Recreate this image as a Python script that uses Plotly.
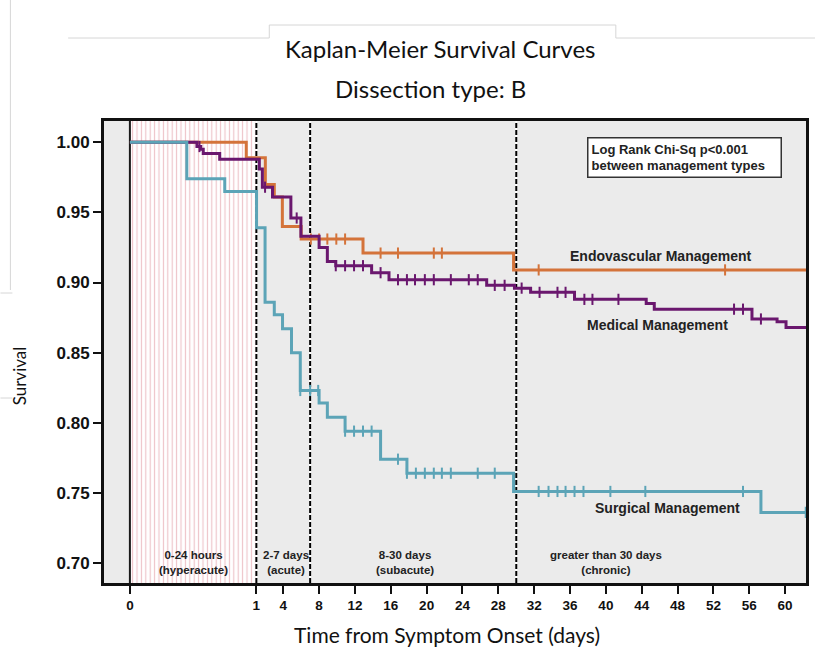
import plotly.graph_objects as go

# ---------------- data (days, survival) ----------------
endo_t = [0, 0.92, 2.0, 3.0, 3.9, 6.0, 12.9, 29.7]
endo_s = [1.000, 0.989, 0.970, 0.961, 0.940, 0.931, 0.921, 0.909]
endo_cens = [7.08, 8.0, 8.92, 9.92, 10.9, 14.86, 16.8, 20.8, 21.7, 32.5, 53.3]

med_t = [0, 0.53, 0.56, 0.58, 0.71, 1.33, 1.67, 2.8, 4.85, 5.97, 8.0, 8.92, 9.86,
         13.86, 15.8, 26.7, 29.8, 31.6, 36.5, 44.5, 45.4, 56.3, 59.1, 60.1]
med_s = [1.000, 0.997, 0.995, 0.992, 0.988, 0.981, 0.968, 0.961, 0.946, 0.933, 0.925, 0.915, 0.912,
         0.907, 0.902, 0.898, 0.896, 0.893, 0.888, 0.885, 0.881, 0.874, 0.872, 0.868]
med_cens = [0.55, 1.97, 5.5, 9.86, 10.9, 11.9, 12.9, 14.86, 16.8, 17.8, 18.7, 19.8, 20.8,
            22.7, 24.7, 25.7, 27.6, 28.7, 30.6, 32.6, 34.6, 35.5, 37.6, 38.5, 41.4,
            54.3, 55.3, 57.3]

surg_t = [0, 0.45, 0.75, 1.02, 1.97, 3.0, 3.92, 4.92, 5.9, 8.0, 8.92, 10.9, 14.86, 17.8, 29.7, 57.3]
surg_s = [1.000, 0.974, 0.965, 0.939, 0.886, 0.877, 0.867, 0.850, 0.823, 0.814, 0.804, 0.794,
          0.774, 0.764, 0.751, 0.736]
surg_cens = [5.9, 7.0, 7.9, 10.9, 11.9, 12.9, 13.86, 16.8, 17.8, 18.8, 19.8, 20.8, 21.7, 22.7,
             25.7, 27.6, 32.5, 33.6, 34.6, 35.5, 36.5, 37.5, 40.5, 44.4, 55.3, 62.3]

follow_up_end = 62.5

series_names = ["Endovascular Management", "Medical Management", "Surgical Management"]
series_colors = ["#d4733a", "#6a176e", "#5ca4b7"]
label_days = [46.2, 45.8, 46.9]
label_surv = [0.919, 0.870, 0.739]

period_bounds = [0, 1, 7, 30]
period_labels = ["0-24 hours<br>(hyperacute)", "2-7 days<br>(acute)",
                 "8-30 days<br>(subacute)", "greater than 30 days<br>(chronic)"]
period_label_days = [0.5, 4.3, 17.6, 40.0]

x_tick_days = [0, 1, 4, 8, 12, 16, 20, 24, 28, 32, 36, 40, 44, 48, 52, 56, 60]
y_ticks = [0.70, 0.75, 0.80, 0.85, 0.90, 0.95, 1.00]

# ---------------- axis transform: first day (hours) is stretched ----------------
K = 127 / 9.0


def to_axis(d):
    return d * K if d <= 1 else K + (d - 1)


def surv_at(times, surv, t):
    s = surv[0]
    for ti, si in zip(times, surv):
        if ti <= t:
            s = si
    return s


X_RANGE = [-2.89, 75.44]
Y_RANGE = [0.6857, 1.0152]
W, H = 818, 656
ML, MR, MT, MB = 104, 9, 121, 73
PW, PH = W - ML - MR, H - MT - MB


def px(xp):
    return (xp - ML) / PW


def py(yp):
    return (H - MB - yp) / PH


fig = go.Figure()

# hatched hyperacute band
fig.add_trace(go.Bar(
    x=[(to_axis(period_bounds[0]) + to_axis(period_bounds[1])) / 2],
    y=[Y_RANGE[1] - Y_RANGE[0]], base=[Y_RANGE[0]],
    width=[to_axis(period_bounds[1]) - to_axis(period_bounds[0])],
    marker=dict(color="white", line=dict(width=0),
                pattern=dict(shape="|", size=4.4, solidity=0.26, fgcolor="#dc8591",
                             fillmode="overlay")),
    hoverinfo="skip", showlegend=False))

# period boundary lines (dashed lines have white gaps)
for i, d in enumerate(period_bounds):
    if i > 0:
        fig.add_trace(go.Scatter(
            x=[to_axis(d), to_axis(d)], y=Y_RANGE, mode="lines",
            line=dict(color="white", width=2), hoverinfo="skip", showlegend=False))
    fig.add_trace(go.Scatter(
        x=[to_axis(d), to_axis(d)], y=Y_RANGE, mode="lines",
        line=dict(color="#1a1a1a" if i == 0 else "black", width=2,
                  dash="solid" if i == 0 else "5px,2px"),
        hoverinfo="skip", showlegend=False))

# curves
curves = [(endo_t, endo_s, endo_cens), (med_t, med_s, med_cens), (surg_t, surg_s, surg_cens)]
for (tt, ss, cc), name, col in zip(curves, series_names, series_colors):
    xs = [to_axis(t) for t in tt] + [to_axis(follow_up_end)]
    ys = list(ss) + [ss[-1]]
    fig.add_trace(go.Scatter(x=xs, y=ys, mode="lines", line=dict(color=col, width=3, shape="hv"),
                             name=name, showlegend=False))
    fig.add_trace(go.Scatter(
        x=[to_axis(c) for c in cc], y=[surv_at(tt, ss, c) for c in cc], mode="markers",
        marker=dict(symbol="line-ns", size=8, color=col, line=dict(width=2, color=col)),
        showlegend=False, hoverinfo="skip"))

BOLD = "Liberation Sans, Arial, sans-serif"
annotations = []
for name, d, s in zip(series_names, label_days, label_surv):
    annotations.append(dict(x=to_axis(d), y=s, text=name, showarrow=False,
                            xanchor="center", yanchor="middle",
                            font=dict(family=BOLD, size=14, color="#222", weight="bold")))
for lab, d in zip(period_labels, period_label_days):
    annotations.append(dict(x=to_axis(d), y=0.7005, text=lab, showarrow=False,
                            xanchor="center", yanchor="middle",
                            font=dict(family=BOLD, size=11.5, color="#222", weight="bold")))
annotations.append(dict(x=to_axis(48.8), y=0.9895, showarrow=False, align="left",
                        xanchor="center", yanchor="middle",
                        text="Log Rank Chi-Sq p<0.001<br>between management types",
                        font=dict(family=BOLD, size=13, color="#222", weight="bold"),
                        bgcolor="white", bordercolor="#333", borderwidth=1.5, borderpad=3,
                        width=186))

TFONT = "Lato, Open Sans, sans-serif"
annotations += [
    dict(xref="paper", yref="paper", x=px(441), y=py(48), text="Kaplan-Meier Survival Curves",
         xanchor="center", yanchor="middle",
         showarrow=False, font=dict(family=TFONT, size=24, color="#111")),
    dict(xref="paper", yref="paper", x=px(432), y=py(89), text="Dissection type: B",
         xanchor="center", yanchor="middle",
         showarrow=False, font=dict(family=TFONT, size=24, color="#111")),
    dict(xref="paper", yref="paper", x=px(448), y=py(634), text="Time from Symptom Onset (days)",
         xanchor="center", yanchor="middle",
         showarrow=False, font=dict(family=TFONT, size=21, color="#111")),
    dict(xref="paper", yref="paper", x=px(19), y=py(376), text="Survival", textangle=-90,
         xanchor="center", yanchor="middle",
         showarrow=False, font=dict(family=TFONT, size=17, color="#111")),
]

# decorative frame lines from the source screenshot
deco = [(68, 38, 270, 38), (270, 38, 270, 25), (270, 25, 618, 25), (618, 25, 618, 38),
        (618, 38, 818, 38), (10, 0, 10, 290), (0, 293, 12, 293), (0, 398, 12, 398)]
shapes = [dict(type="line", xref="paper", yref="paper", x0=px(a), y0=py(b), x1=px(c), y1=py(d),
               line=dict(color="#d6d6d6", width=1)) for a, b, c, d in deco]

fig.update_layout(
    width=W, height=H, margin=dict(l=ML, r=MR, t=MT, b=MB),
    paper_bgcolor="white", plot_bgcolor="#ebebeb",
    annotations=annotations, shapes=shapes, bargap=0,
    xaxis=dict(range=X_RANGE, tickvals=[to_axis(d) for d in x_tick_days],
               ticktext=[str(d) for d in x_tick_days], ticks="outside", ticklen=8, tickwidth=2,
               tickcolor="#111", showgrid=False, zeroline=False, showline=True, linewidth=3,
               linecolor="#111", mirror=True,
               tickfont=dict(family=BOLD, size=13.5, color="#111", weight="bold")),
    yaxis=dict(range=Y_RANGE, tickvals=y_ticks, ticktext=[f"{v:.2f}" for v in y_ticks],
               ticks="outside", ticklen=8, tickwidth=2, tickcolor="#111", showgrid=False,
               zeroline=False, showline=True, linewidth=3, linecolor="#111", mirror=True,
               tickfont=dict(family=BOLD, size=17, color="#111", weight="bold")),
)

fig.write_html("out.html")
